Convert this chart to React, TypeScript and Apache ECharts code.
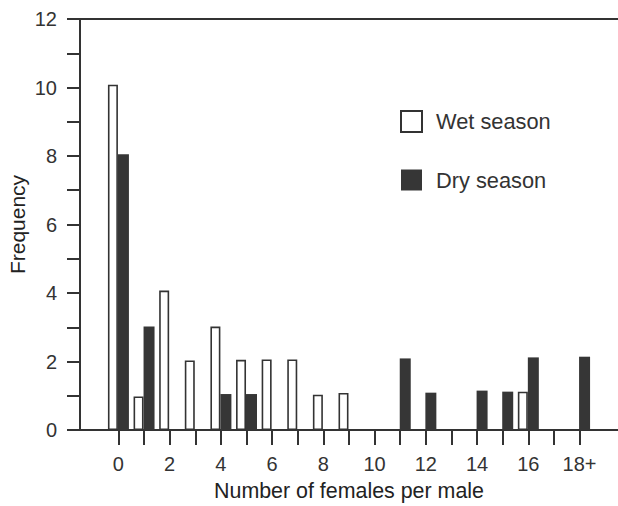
import React, { useEffect, useRef } from "react";
import * as echarts from "echarts";

const categories = ["0", "1", "2", "3", "4", "5", "6", "7", "8", "9", "10", "11", "12", "13", "14", "15", "16", "17", "18+"];
const wetSeason = [10.08, 0.98, 4.07, 2.03, 3.02, 2.05, 2.06, 2.06, 1.03, 1.08, 0, 0, 0, 0, 0, 0, 1.12, 0, 0];
const drySeason = [8.05, 3.02, 0, 0, 1.05, 1.05, 0, 0, 0, 0, 0, 2.09, 1.09, 0, 1.15, 1.12, 2.12, 0, 2.14];
const yTicks = [0, 2, 4, 6, 8, 10, 12];

const INK = "#333333";
const FONT = "Liberation Sans, Arial, Helvetica, sans-serif";

export default function App() {
  const ref = useRef<HTMLDivElement>(null);
  useEffect(() => {
    if (!ref.current) return;
    const chart = echarts.init(ref.current, undefined, { renderer: "svg" });
    const axisData = ["", ...categories, ""];
    const pad = (arr: number[]) => [null, ...arr.map((v) => (v === 0 ? null : v)), null];
    const n = categories.length;
    chart.setOption({
      animation: false,
      textStyle: { fontFamily: FONT, color: INK },
      grid: { left: 80, right: 0, top: 19, bottom: 76, containLabel: false, outerBoundsMode: "none" },
      legend: {
        orient: "vertical",
        left: 400,
        top: 110,
        padding: 0,
        itemWidth: 21,
        itemHeight: 21,
        itemGap: 36,
        icon: "rect",
        textStyle: { fontSize: 21.8, color: INK, fontFamily: FONT, padding: [0, 0, 0, 9] },
        data: ["Wet season", "Dry season"],
      },
      xAxis: [
        {
          type: "category",
          data: axisData,
          position: "bottom",
          boundaryGap: true,
          axisLine: { show: true, lineStyle: { color: INK, width: 2 } },
          axisTick: {
            show: true,
            alignWithLabel: true,
            length: 15,
            interval: (i: number) => i >= 1 && i <= n,
            lineStyle: { color: INK, width: 2 },
          },
          axisLabel: {
            interval: (i: number) => i >= 1 && i <= n && (i - 1) % 2 === 0,
            fontSize: 20,
            color: INK,
            margin: 24,
            fontFamily: FONT,
          },
          name: "Number of females per male",
          nameLocation: "middle",
          nameGap: 50,
          nameMoveOverlap: false,
          nameTextStyle: { fontSize: 21.4, color: "#222", fontFamily: FONT },
          splitLine: { show: false },
        },
        {
          type: "category",
          data: axisData,
          position: "top",
          axisLine: { show: true, lineStyle: { color: INK, width: 2 } },
          axisTick: { show: false },
          axisLabel: { show: false },
          splitLine: { show: false },
        },
      ],
      yAxis: {
        type: "value",
        min: 0,
        max: 12,
        interval: 1,
        axisLine: { show: true, lineStyle: { color: INK, width: 2 } },
        axisTick: { show: true, length: 13, lineStyle: { color: INK, width: 2 } },
        axisLabel: {
          fontSize: 20,
          color: INK,
          margin: 23,
          fontFamily: FONT,
          formatter: (v: number) => (yTicks.includes(v) ? String(v) : ""),
        },
        splitLine: { show: false },
        name: "Frequency",
        nameLocation: "middle",
        nameGap: 52,
        nameMoveOverlap: false,
        nameTextStyle: { fontSize: 21, color: "#222", fontFamily: FONT },
      },
      series: [
        {
          name: "Wet season",
          type: "bar",
          xAxisIndex: 0,
          data: pad(wetSeason),
          barWidth: 10,
          barGap: "0%",
          itemStyle: { color: "#ffffff", borderColor: INK, borderWidth: 1.6 },
        },
        {
          name: "Dry season",
          type: "bar",
          xAxisIndex: 0,
          data: pad(drySeason),
          barWidth: 11,
          barGap: "0%",
          itemStyle: { color: "#363636" },
        },
      ],
    });
    return () => chart.dispose();
  }, []);
  return (
    <div
      ref={ref}
      style={{ position: "fixed", left: 0, top: 0, width: 618, height: 506, background: "#fff" }}
    />
  );
}
